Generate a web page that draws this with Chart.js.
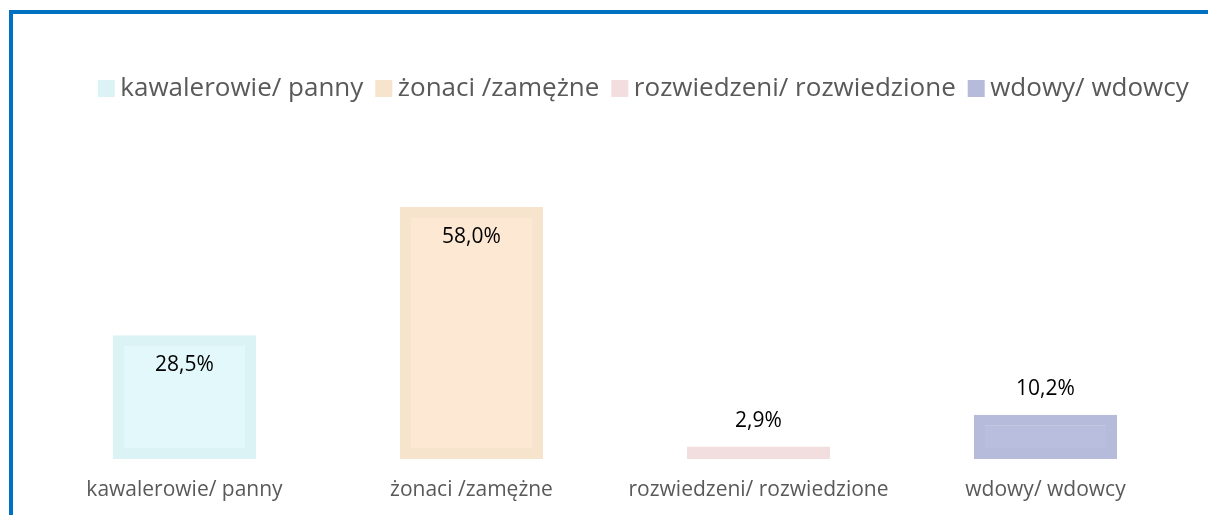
<!DOCTYPE html>
<html>
<head>
<meta charset="utf-8">
<script src="https://cdn.jsdelivr.net/npm/chart.js@4/dist/chart.umd.min.js"></script>
<style>
  body { margin: 0; background: #fff; overflow: hidden; }
  #wrap { position: relative; width: 1208px; height: 515px; overflow: hidden; }
  #frame {
    position: absolute; left: 9px; top: 10px;
    width: 1400px; height: 700px;
    border: 4px solid #0070c0;
  }
  #chart { position: absolute; left: 0; top: 0; }
</style>
</head>
<body>
<div id="wrap">
  <div id="frame"></div>
  <canvas id="chart" width="1208" height="515"></canvas>
</div>
<script>
const categories = ["kawalerowie/ panny", "żonaci /zamężne", "rozwiedzeni/ rozwiedzione", "wdowy/ wdowcy"];
const shares = [28.5, 58.0, 2.9, 10.2];

const fillColors = ["#e2f8fa", "#fde8d3", "#f4e1e2", "#b9bede"];
const edgeColors = ["#dcf3f5", "#f6e4cd", "#f2dddf", "#b7bbdb"];

const font = "'Open Sans', sans-serif";

// value labels: inside the top of tall bars, above the short ones
const valueLabels = {
  id: "valueLabels",
  afterDatasetsDraw(chart) {
    const ctx = chart.ctx;
    const meta = chart.getDatasetMeta(0);
    ctx.save();
    ctx.font = "21px " + font;
    ctx.fillStyle = "#000";
    ctx.textAlign = "center";
    ctx.textBaseline = "alphabetic";
    meta.data.forEach((bar, i) => {
      const v = shares[i];
      const txt = v.toFixed(1).replace(".", ",") + "%";
      const y = v > 20 ? bar.y + 35.5 : bar.y - 19.5;
      ctx.fillText(txt, bar.x, y);
    });
    ctx.restore();
  },
};

// legend sits a bit right of the plot centre in the original
const shiftLegend = {
  id: "shiftLegend",
  afterLayout(chart) {
    chart.legend.left += 32;
    chart.legend.right += 32;
  },
};

const config = {
  type: "bar",
  data: {
    labels: categories,
    datasets: [
      {
        data: shares,
        backgroundColor: fillColors,
        borderColor: edgeColors,
        borderWidth: 11,
        borderSkipped: false,
        barThickness: 143,
        inflateAmount: 0,
      },
    ],
  },
  options: {
    responsive: false,
    animation: false,
    layout: { padding: { left: 41, right: 19, top: 56, bottom: 13 } },
    plugins: {
      tooltip: { enabled: false },
      legend: {
        display: true,
        position: "top",
        labels: {
          usePointStyle: true,
          boxWidth: 2,
          boxHeight: 17,
          padding: 19.5,
          color: "#595959",
          font: { family: font, size: 26 },
          generateLabels: () =>
            categories.map((c, i) => ({
              text: c,
              fillStyle: edgeColors[i],
              strokeStyle: edgeColors[i],
              lineWidth: 0,
              pointStyle: "rect",
              hidden: false,
              index: i,
              fontColor: "#595959",
            })),
        },
      },
    },
    scales: {
      x: {
        grid: { display: false, drawTicks: false },
        border: { display: false },
        ticks: {
          color: "#595959",
          padding: 18,
          maxRotation: 0,
          autoSkip: false,
          font: { family: font, size: 21 },
        },
        afterFit: (scale) => {
          scale.height = 43;
        },
      },
      y: {
        display: false,
        min: 0,
        max: 80,
      },
    },
  },
  plugins: [valueLabels, shiftLegend],
};

new Chart(document.getElementById("chart"), config);
</script>
</body>
</html>
